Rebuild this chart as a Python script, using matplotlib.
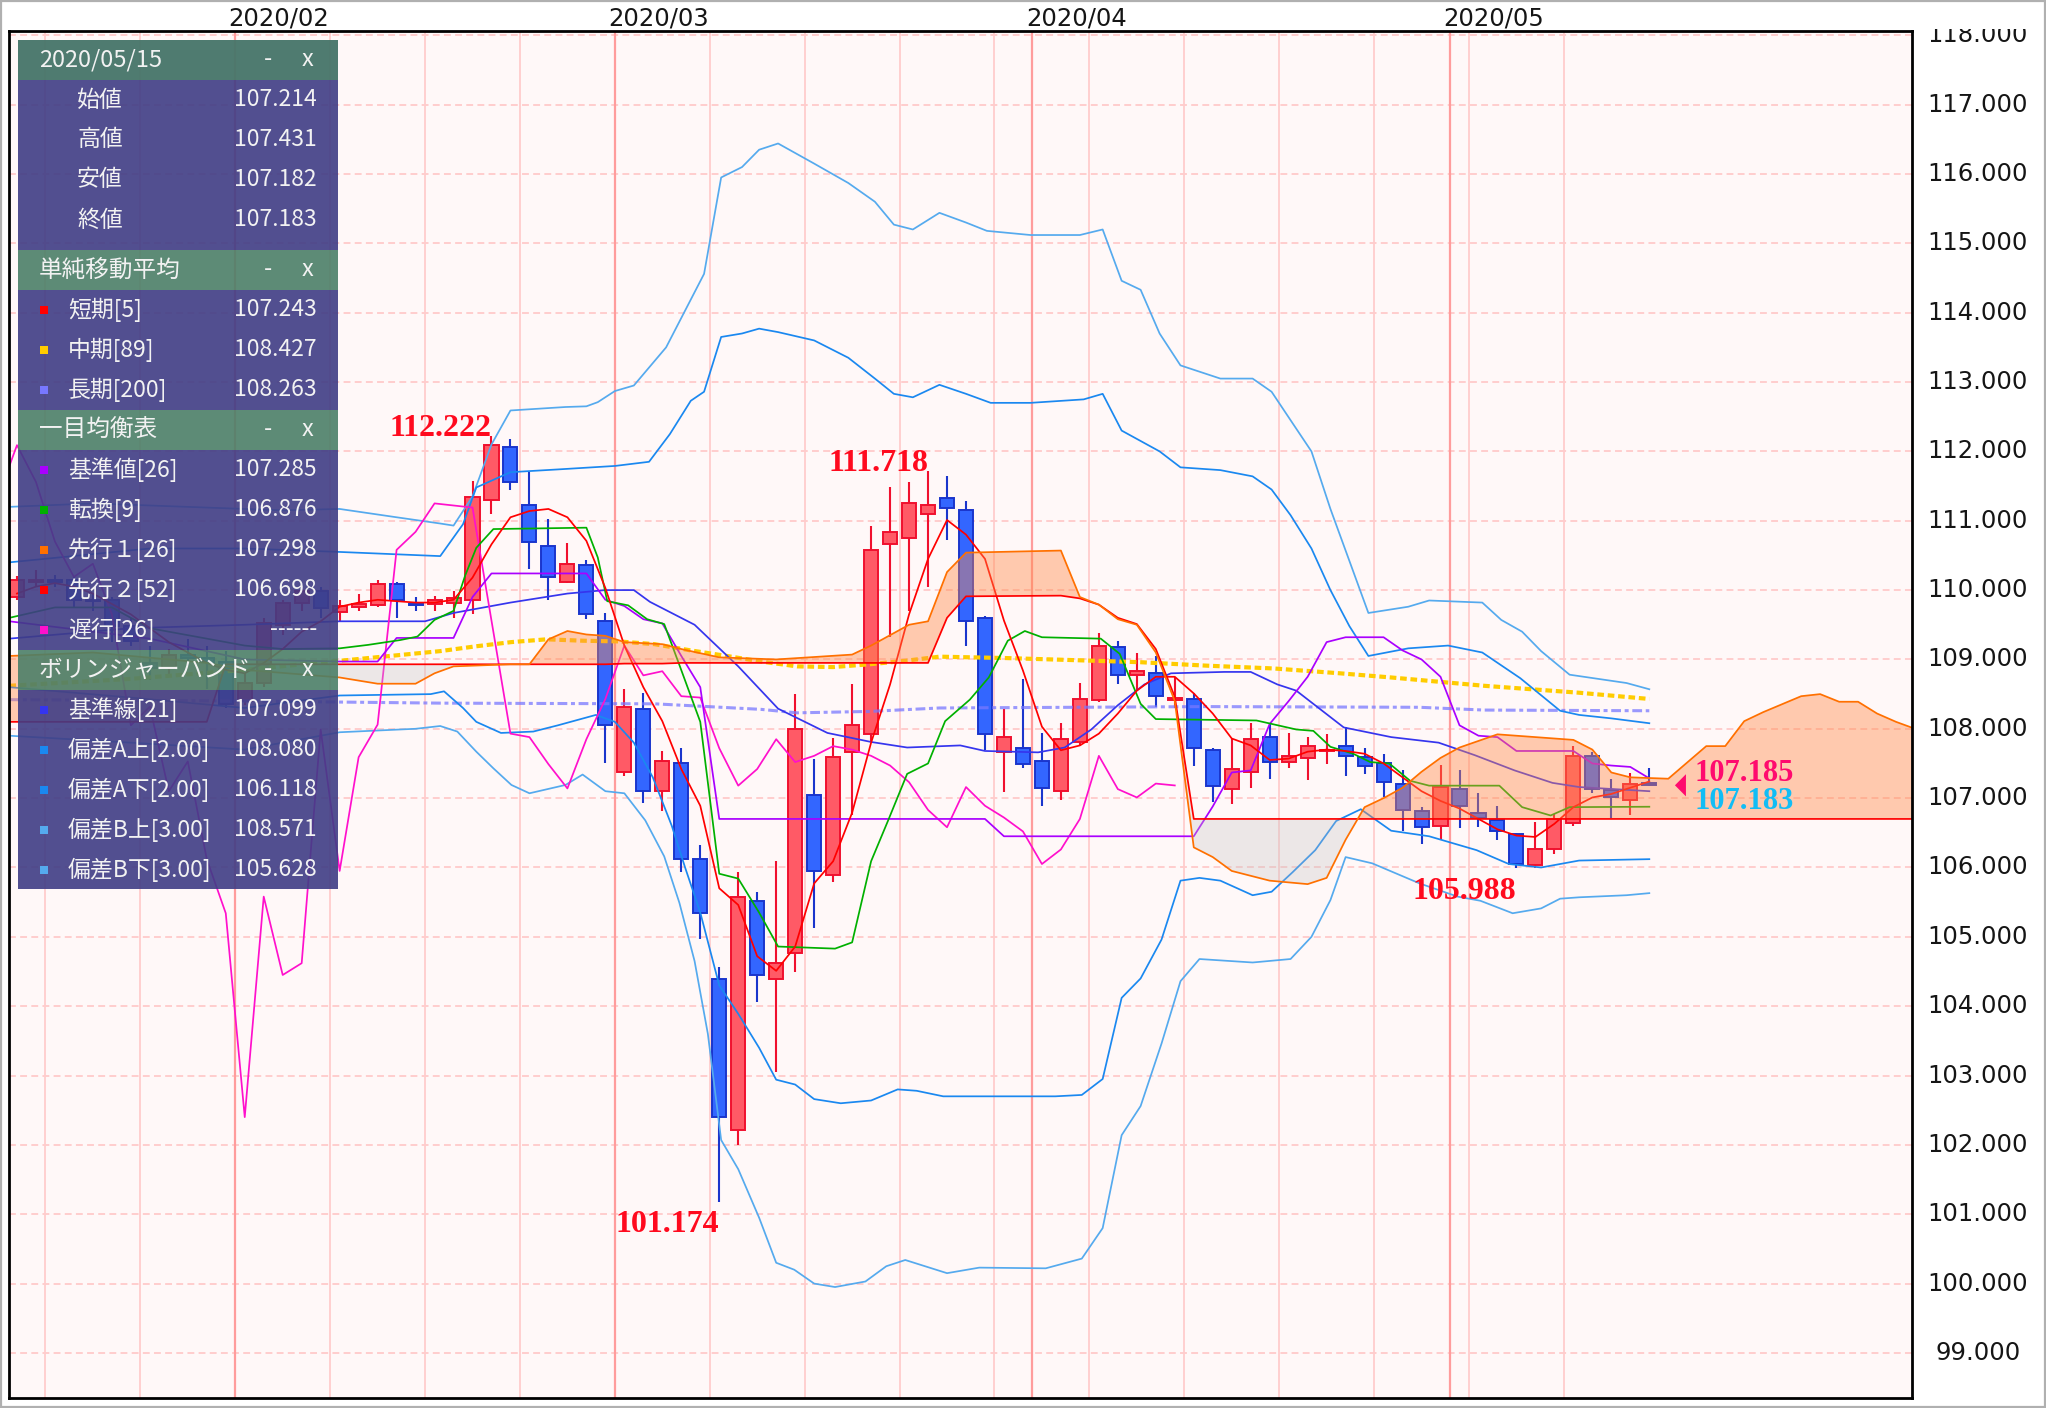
import numpy as np
import pandas as pd
import matplotlib
matplotlib.use("Agg")
import matplotlib.pyplot as plt
from matplotlib.patches import Rectangle, Polygon
from matplotlib.transforms import Bbox, TransformedBbox, blended_transform_factory

W, H, DPI = 2046, 1408, 100

# ---------------- daily candles (x = sessions counted from 2020-02-03) ----------------
dates = pd.bdate_range("2020-01-16", "2020-05-15")

opens = [109.90, 110.12, 110.15, 110.14, 109.86, 109.85, 109.48, 108.95, 108.88, 109.07, 109.02, 108.96,
         108.40, 108.66, 109.50, 109.82, 109.98, 109.69, 109.75, 109.78, 110.09, 109.80, 109.80, 109.82,
         109.85, 111.30, 112.06, 111.22, 110.64, 110.12, 110.36, 109.55,
         107.38, 108.29, 107.10, 107.51, 106.12, 104.39, 102.22, 105.52, 104.39, 104.76,
         107.04, 105.89, 107.66, 107.93, 110.67, 110.75, 111.10, 111.33, 111.16, 109.60,
         107.67, 107.72, 107.53, 107.10, 107.81, 108.41, 109.18, 108.77, 108.80, 108.42,
         108.43, 107.70, 107.13, 107.38, 107.88, 107.52, 107.58, 107.68, 107.75, 107.60,
         107.50, 107.21, 106.81, 106.60, 107.13, 106.78, 106.68, 106.49, 106.03, 106.26,
         106.64, 107.61, 107.12, 106.98, 107.214]
highs = [110.20, 110.29, 110.22, 110.20, 109.95, 109.90, 109.60, 109.20, 109.15, 109.30, 109.20, 109.12,
         108.80, 109.60, 109.85, 110.02, 110.05, 109.85, 109.95, 110.14, 110.11, 109.90, 109.92, 109.98,
         111.58, 112.222, 112.18, 111.70, 111.03, 110.68, 110.44, 109.67,
         108.58, 108.51, 107.68, 107.73, 106.32, 104.57, 105.93, 105.65, 106.10, 108.50,
         107.57, 107.86, 108.64, 110.93, 111.48, 111.56, 111.718, 111.65, 111.28, 109.63,
         108.29, 108.72, 107.94, 108.08, 108.66, 109.38, 109.26, 109.09, 109.05, 108.75,
         108.52, 107.73, 107.85, 108.08, 108.09, 107.94, 107.88, 107.93, 108.02, 107.73,
         107.63, 107.40, 106.87, 107.48, 107.40, 107.07, 106.88, 106.50, 106.65, 106.77,
         107.75, 107.66, 107.28, 107.36, 107.431]
lows = [109.85, 110.05, 110.05, 109.75, 109.70, 109.25, 109.20, 108.70, 108.75, 108.90, 108.57, 108.30,
        108.35, 108.60, 109.35, 109.70, 109.60, 109.55, 109.70, 109.75, 109.60, 109.70, 109.70, 109.60,
        109.65, 111.09, 111.44, 110.31, 109.86, 110.10, 109.58, 107.50,
        107.32, 106.93, 106.82, 105.94, 104.97, 101.174, 102.00, 104.06, 103.05, 104.50,
        105.13, 105.79, 106.75, 107.83, 109.33, 109.70, 110.05, 110.72, 109.19, 107.70,
        107.09, 107.43, 106.88, 106.98, 107.75, 108.38, 108.64, 108.55, 108.32, 108.30,
        107.46, 106.95, 106.92, 107.15, 107.27, 107.43, 107.26, 107.49, 107.32, 107.35,
        107.01, 106.53, 106.34, 106.40, 106.57, 106.59, 106.40, 105.988, 105.99, 106.20,
        106.60, 107.08, 106.72, 106.75, 107.182]
closes = [110.15, 110.15, 110.12, 109.86, 109.84, 109.48, 109.27, 108.88, 109.07, 109.02, 108.96, 108.36,
          108.66, 109.52, 109.82, 109.98, 109.74, 109.77, 109.80, 110.09, 109.86, 109.78, 109.85, 109.88,
          111.34, 112.09, 111.56, 110.70, 110.19, 110.38, 109.65, 108.05,
          108.32, 107.10, 107.53, 106.12, 105.34, 102.40, 105.58, 104.45, 104.62, 107.99,
          105.95, 107.59, 108.06, 110.58, 110.84, 111.25, 111.22, 111.19, 109.56, 107.93,
          107.88, 107.49, 107.14, 107.85, 108.43, 109.20, 108.77, 108.83, 108.47, 108.45,
          107.72, 107.18, 107.42, 107.85, 107.52, 107.61, 107.75, 107.70, 107.61, 107.47,
          107.23, 106.83, 106.58, 107.16, 106.89, 106.72, 106.52, 106.05, 106.26, 106.70,
          107.61, 107.13, 107.01, 107.21, 107.183]

# ---------------- indicators ----------------
sma5 = [109.95, 110.05, 110.10, 110.05, 109.95, 109.80, 109.65, 109.45, 109.25, 109.10, 108.95, 108.85,
        108.80, 108.95, 109.15, 109.40, 109.55, 109.76, 109.82, 109.86, 109.84, 109.82, 109.82, 109.86,
        110.18, 110.66, 111.05, 111.14, 111.17, 111.05, 110.71, 110.03,
        109.20, 108.60, 108.11, 107.42, 106.89, 105.70, 105.46, 104.72, 104.51, 104.86,
        105.77, 106.09, 106.79, 107.80, 108.64, 109.65, 110.45, 111.01, 110.80, 110.45,
        109.56, 108.84, 108.03, 107.69, 107.76, 107.93, 108.22, 108.55, 108.75, 108.75,
        108.51, 108.22, 107.86, 107.76, 107.55, 107.57, 107.67, 107.70, 107.68, 107.64,
        107.50, 107.30, 107.10, 106.96, 106.85, 106.70, 106.55, 106.46, 106.44, 106.63,
        106.87, 107.01, 107.06, 107.15, 107.24]

sma89_x = [-12.4, -6, 0, 5, 10.3, 12.2, 14.05, 15.9, 17.8, 19.7, 21.6, 23.5, 25.4, 27.2, 29.1,
           31, 32.9, 34.8, 36.6, 40.1, 43.7, 47.2, 50.7, 54.2, 57.7, 60.4, 65.3, 70.3, 74]
sma89_y = [108.62, 108.72, 108.85, 108.98, 109.12, 109.19, 109.25, 109.29, 109.27, 109.26, 109.22, 109.13,
           109.05, 108.97, 108.9, 108.89, 108.93, 108.98, 109.04, 109.02, 108.99, 108.96, 108.91, 108.87,
           108.8, 108.74, 108.62, 108.52, 108.43]

sma200_x = [-12.4, 0, 10.3, 21.6, 27.2, 29.1, 32.9, 36.6, 50.7, 61.9, 65.3, 74]
sma200_y = [108.42, 108.4, 108.37, 108.36, 108.28, 108.23, 108.25, 108.3, 108.32, 108.31, 108.27, 108.26]

tenkan_x = [-12.4, -10, -7, -5, -3, -1, 0, 2, 5, 6.5, 8.2, 9.1, 10, 11, 11.6, 12.2, 13.1, 18, 18.6, 19.1,
            20.2, 21.2, 22.1, 22.9, 24, 25, 26, 27.1, 28.1, 31.1, 32, 33, 33.9, 34.9, 36, 36.9, 38.2, 39.2,
            40.2, 41.1, 42, 45.1, 46.1, 47.2, 48, 53.3, 55.4, 56.3, 57.2, 58.4, 59.3, 60.3, 61.4, 62.4,
            66.1, 67.3, 68.8, 69.8, 74]
tenkan_y = [109.6, 109.75, 109.75, 109.45, 109.35, 109.25, 109.2, 109.15, 109.16, 109.21, 109.28, 109.33,
            109.57, 109.7, 110.2, 110.61, 110.88, 110.9, 110.47, 109.84, 109.78, 109.58, 109.51, 108.92,
            108.1, 105.91, 105.84, 105.35, 104.86, 104.83, 104.92, 106.09, 106.68, 107.35, 107.5, 108.11,
            108.42, 108.74, 109.27, 109.41, 109.32, 109.3, 109.08, 108.36, 108.14, 108.12, 107.99, 107.97,
            107.74, 107.64, 107.52, 107.5, 107.25, 107.18, 107.18, 106.87, 106.75, 106.87, 106.876]

kijun_x = [-12.4, -5, 0, 5, 7, 8, 11, 12, 13, 18, 19, 20, 21, 22, 23, 24, 25, 39, 40, 50, 51, 52, 53, 54,
           55, 56, 57, 58, 60, 61, 62, 63, 64, 65, 66, 67, 70, 71, 72, 73, 74]
kijun_y = [109.55, 109.3, 109.0, 108.97, 108.97, 109.31, 109.31, 109.9, 110.24, 110.24, 109.86, 109.77,
           109.58, 109.52, 109.05, 108.6, 106.7, 106.7, 106.45, 106.45, 106.88, 107.37, 107.4, 108.07,
           108.4, 108.75, 109.25, 109.32, 109.32, 109.13, 109.0, 108.75, 108.05, 107.9, 107.88, 107.68,
           107.68, 107.5, 107.47, 107.45, 107.285]

cloud_x = [-12.4, -8, -4, -2, -1, 0, 5, 7, 9, 10, 11, 14, 15, 16, 17, 18, 19, 20, 22, 23, 25, 28, 32, 33,
           34, 35, 36, 37, 38, 43, 44, 45, 46, 47, 48, 49, 50, 51, 52, 54, 56, 57, 58, 59, 60, 61, 62, 63,
           64, 66, 67, 70, 71, 72, 73, 75, 77, 78, 79, 80, 82, 83, 84, 85, 86, 87, 88]
span_a = [109.05, 109.1, 109.0, 108.95, 108.9, 108.85, 108.74, 108.65, 108.65, 108.8, 108.9, 108.93,
          108.93, 109.29, 109.41, 109.36, 109.34, 109.25, 109.22, 109.15, 109.03, 109.0, 109.07, 109.2,
          109.35, 109.5, 109.55, 110.26, 110.54, 110.57, 109.9, 109.79, 109.58, 109.5, 109.1, 108.4,
          106.29, 106.15, 105.95, 105.81, 105.76, 105.85, 106.4, 106.87, 107.0, 107.15, 107.38, 107.58,
          107.73, 107.92, 107.9, 107.84, 107.7, 107.37, 107.3, 107.28, 107.75, 107.75, 108.11, 108.24,
          108.47, 108.5, 108.39, 108.39, 108.22, 108.1, 108.0]
span_b = [108.1, 108.1, 108.1, 108.1, 108.93, 108.93, 108.93, 108.93, 108.93, 108.93, 108.93, 108.93,
          108.93, 108.93, 108.93, 108.93, 108.93, 108.94, 108.94, 108.95, 108.95, 108.95, 108.95, 108.95,
          108.95, 108.95, 108.95, 109.6, 109.91, 109.92, 109.88, 109.79, 109.6, 109.51, 109.15, 108.46,
          106.7, 106.7, 106.7, 106.7, 106.7, 106.7, 106.7, 106.7, 106.7, 106.7, 106.7, 106.7,
          106.7, 106.7, 106.7, 106.7, 106.7, 106.7, 106.7, 106.7, 106.7, 106.7, 106.7, 106.7,
          106.7, 106.7, 106.7, 106.7, 106.7, 106.7, 106.7]

bb_mid_x = [-12.4, -6, 0, 5, 9.5, 11, 14, 17, 19, 20.5, 21.35, 23.7, 26.0, 28.1, 30.7, 33.0, 34.9, 37.7,
            39.0, 41.8, 43.2, 44.6, 46.0, 47.4, 48.8, 51.6, 53.0, 54.4, 55.4, 57.9, 60.4, 62.9, 64.8,
            66.9, 68.9, 70.3, 74]
bb_mid_y = [109.3, 109.45, 109.5, 109.55, 109.55, 109.67, 109.82, 109.95, 110.0, 110.0, 109.83, 109.5,
            108.9, 108.29, 107.94, 107.81, 107.73, 107.76, 107.68, 107.66, 107.73, 107.99, 108.34, 108.64,
            108.8, 108.82, 108.82, 108.64, 108.55, 108.02, 107.88, 107.8, 107.62, 107.4, 107.22, 107.16,
            107.1]

bb_up2_x = [-12.4, -5, 0, 5, 10.3, 11.5, 12.2, 14, 16.5, 19.5, 21.3, 22.4, 23.5, 24.2, 25.1, 26.2, 27.1,
            28.1, 30, 31.8, 33.2, 34.2, 35.2, 36.6, 38, 39.3, 41.4, 44.2, 45.2, 46.2, 48.2, 49.3, 51.4,
            53.1, 54.1, 55.1, 56.2, 57.2, 58.2, 59.2, 61.3, 63.4, 65.2, 67.2, 69.3, 70.3, 72, 74]
bb_up2_y = [110.4, 110.6, 110.6, 110.55, 110.49, 110.95, 111.48, 111.70, 111.74, 111.79, 111.85, 112.25,
            112.73, 112.86, 113.65, 113.7, 113.77, 113.72, 113.6, 113.35, 113.05, 112.83, 112.78, 112.96,
            112.83, 112.7, 112.7, 112.75, 112.83, 112.3, 112.0, 111.77, 111.73, 111.64, 111.45, 111.08,
            110.6, 110.0, 109.48, 109.05, 109.16, 109.2, 109.1, 108.73, 108.26, 108.2, 108.15, 108.08]

bb_dn2_x = [-12.4, -6, 0, 5, 9.8, 10.5, 11.5, 12.2, 13.5, 15.2, 16.5, 18.5, 19.5, 20.5, 21.5, 22.5, 23.2,
            24.0, 25.0, 26.0, 27.1, 28.0, 29.0, 30.0, 31.4, 33.0, 34.4, 35.4, 36.8, 42.7, 44.1, 45.2, 46.2,
            47.2, 48.3, 49.3, 50.3, 51.4, 53.1, 54.1, 55.2, 56.4, 57.5, 58.8, 60.4, 62.4, 64.9, 66.6,
            68.3, 69.3, 70.3, 74]
bb_dn2_y = [108.6, 108.45, 108.3, 108.48, 108.5, 108.54, 108.3, 108.1, 107.94, 107.96, 108.05, 108.2,
            108.1, 107.8, 107.3, 106.6, 106.0, 105.35, 104.3, 103.89, 103.4, 102.94, 102.87, 102.66,
            102.6, 102.64, 102.8, 102.78, 102.7, 102.7, 102.72, 102.95, 104.12, 104.4, 104.96, 105.81,
            105.85, 105.81, 105.6, 105.65, 105.93, 106.25, 106.67, 106.84, 106.53, 106.45, 106.25,
            106.05, 106.0, 106.05, 106.1, 106.12]

bb_up3_x = [-12.4, -8, -3, 2, 5, 8, 10.3, 11.0, 12.0, 13.0, 14.0, 16.9, 18.0, 18.6, 19.5, 20.5, 22.2,
            24.2, 25.1, 26.2, 27.1, 28.1, 30, 31.8, 33.2, 34.2, 35.2, 36.6, 38, 39.1, 41.4, 44, 45.2,
            46.2, 47.2, 48.2, 49.3, 51.4, 53.1, 54.1, 55.1, 56.2, 57.2, 58.2, 59.2, 61.3, 62.4, 65.2,
            66.2, 67.3, 68.3, 69.8, 72.8, 74]
bb_up3_y = [111.2, 111.25, 111.2, 111.15, 111.17, 111.05, 110.96, 110.93, 111.35, 112.1, 112.59, 112.64,
            112.65, 112.71, 112.87, 112.95, 113.5, 114.56, 115.95, 116.1, 116.35, 116.44, 116.15, 115.87,
            115.6, 115.27, 115.2, 115.44, 115.3, 115.18, 115.12, 115.12, 115.2, 114.46, 114.33, 113.7,
            113.24, 113.05, 113.05, 112.86, 112.45, 112.0, 111.17, 110.42, 109.67, 109.76, 109.85,
            109.82, 109.57, 109.4, 109.12, 108.78, 108.66, 108.57]

bb_dn3_x = [-12.4, -6, 0, 5, 9, 10.3, 11.2, 12.2, 13.1, 14.05, 15.0, 16.9, 17.8, 19.0, 20.0, 21.1, 22.1,
            22.9, 23.7, 24.4, 25.1, 26.0, 27.1, 28.0, 28.95, 30.0, 31.1, 32.7, 33.8, 34.8, 37.0, 38.7,
            42.2, 44.1, 45.2, 46.2, 47.2, 48.3, 49.3, 50.3, 53.1, 55.1, 56.2, 57.2, 58.0, 59.4, 61.9,
            63.9, 65.1, 66.8, 68.3, 69.3, 70.3, 72.8, 74]
bb_dn3_y = [107.9, 107.8, 107.7, 107.95, 108.0, 108.04, 107.96, 107.67, 107.43, 107.19, 107.07, 107.19,
            107.34, 107.1, 107.07, 106.68, 106.16, 105.49, 104.65, 103.6, 102.07, 101.65, 100.95, 100.3,
            100.2, 100.0, 99.95, 100.03, 100.25, 100.34, 100.15, 100.23, 100.22, 100.36, 100.8, 102.14,
            102.56, 103.46, 104.36, 104.68, 104.63, 104.68, 105.0, 105.53, 106.15, 106.06, 105.77,
            105.58, 105.52, 105.34, 105.41, 105.55, 105.57, 105.6, 105.63]

# legend panel contents
ohlc_names = ["始値", "高値", "安値", "終値"]
sma_names = ["短期[5]", "中期[89]", "長期[200]"]
sma_vals = ["107.243", "108.427", "108.263"]
ichi_names = ["基準値[26]", "転換[9]", "先行１[26]", "先行２[52]", "遅行[26]"]
ichi_vals = ["107.285", "106.876", "107.298", "106.698", "------"]
bb_names = ["基準線[21]", "偏差A上[2.00]", "偏差A下[2.00]", "偏差B上[3.00]", "偏差B下[3.00]"]
bb_vals = ["107.099", "108.080", "106.118", "108.571", "105.628"]
bid_price, last_price = "107.185", "107.183"
chikou_shift = 25

# ---------------- colours ----------------
C_SMA5, C_SMA89, C_SMA200 = "#ff0000", "#ffcc00", "#7878ff"
C_KIJUN, C_TENKAN, C_SPAN_A, C_SPAN_B, C_CHIKOU = "#aa00ff", "#00b000", "#ff7000", "#ff0000", "#ff10cc"
C_BB_MID, C_BB2, C_BB3 = "#3535ee", "#1a88f0", "#55aaee"

opens, highs, lows, closes = map(np.array, (opens, highs, lows, closes))
x = np.arange(len(dates)) - dates.get_loc(pd.Timestamp("2020-02-03"))

fig = plt.figure(figsize=(W / DPI, H / DPI), dpi=DPI)
fig.patch.set_facecolor("white")
L, R, T, B = 9, 1912, 31, 1398
ax = fig.add_axes([L / W, 1 - B / H, (R - L) / W, (B - T) / H])
ax.set_facecolor("#fff8f8")
ax.set_xlim(-12.42, 87.84)
ax.set_ylim(98.35, 118.062)
ax.set_xticks([])
ax.set_yticks([])
for s in ax.spines.values():
    s.set_linewidth(2.0)
    s.set_color("black")
    s.set_zorder(8)

# grid
for v in range(99, 119):
    ax.axhline(v, color="#ffc2c2", lw=1.1, ls=(0, (4.5, 2.8)), zorder=0.5)
month_start = np.r_[True, dates.month[1:] != dates.month[:-1]] & (dates >= "2020-02-01")
for xi, d, ms in zip(x, dates, month_start):
    if ms:
        ax.axvline(xi - 0.5, color="#ff9c9c", lw=1.6, zorder=0.6)
    elif d.weekday() == 0:
        ax.axvline(xi - 0.5, color="#ffcccc", lw=1.3, zorder=0.6)

# candles
up = closes >= opens
edge = np.where(up, "#f0102e", "#1a35cc")
fill = np.where(up, "#ff5a66", "#3366ff")
ax.vlines(x, lows, highs, colors=edge, lw=1.5, zorder=2)
body_lo = np.minimum(opens, closes)
body_h = np.maximum(np.abs(closes - opens), 0.012)
ax.bar(x, body_h, bottom=body_lo, width=0.74, color=fill, edgecolor=edge, linewidth=1.4, zorder=2.1)

# indicator lines
lw = 1.25
ax.plot(sma200_x, sma200_y, color=C_SMA200, lw=2.2, alpha=0.75, ls=(0, (3.2, 1.2, 1.3, 1.2)), zorder=2.5)
ax.plot(sma89_x, sma89_y, color=C_SMA89, lw=3.0, ls=(0, (1.6, 0.9)), zorder=2.6)
ax.plot(bb_up3_x, bb_up3_y, color=C_BB3, lw=lw, zorder=3)
ax.plot(bb_dn3_x, bb_dn3_y, color=C_BB3, lw=lw, zorder=3)
ax.plot(bb_up2_x, bb_up2_y, color=C_BB2, lw=lw, zorder=3)
ax.plot(bb_dn2_x, bb_dn2_y, color=C_BB2, lw=lw, zorder=3)
ax.plot(bb_mid_x, bb_mid_y, color=C_BB_MID, lw=lw, zorder=3)
ax.plot(x - chikou_shift, closes, color=C_CHIKOU, lw=lw, zorder=3)
ax.plot(kijun_x, kijun_y, color=C_KIJUN, lw=lw, zorder=3.1)
ax.plot(tenkan_x, tenkan_y, color=C_TENKAN, lw=lw, zorder=3.2)
ax.plot(x, sma5, color=C_SMA5, lw=lw, zorder=3.3)

# ichimoku cloud (drawn over candles, translucent)
a, b = np.array(span_a), np.array(span_b)
ax.fill_between(cloud_x, a, b, where=a >= b, interpolate=True, color="#ff8a48", alpha=0.42, lw=0, zorder=4)
ax.fill_between(cloud_x, a, b, where=a < b, interpolate=True, color="#c4c4c4", alpha=0.32, lw=0, zorder=4)
ax.plot(cloud_x, span_b, color=C_SPAN_B, lw=lw, zorder=4.5)
ax.plot(cloud_x, span_a, color=C_SPAN_A, lw=lw, zorder=4.6)

# high / low annotations
mark = dict(family="Liberation Serif", weight="bold", size=23, color="#ff0a1e", zorder=7)
for d in ["2020-02-20", "2020-03-24"]:
    k = dates.get_loc(pd.Timestamp(d))
    ax.text(x[k], highs[k], f"{highs[k]:.3f}", ha="right", va="baseline", **mark)
for d in ["2020-03-09", "2020-05-06"]:
    k = dates.get_loc(pd.Timestamp(d))
    ax.text(x[k], lows[k] - 0.12, f"{lows[k]:.3f}", ha="right", va="top", **mark)

# current price markers
xe = x[-1]
ax.add_patch(Polygon([[xe + 1.35, 107.185], [xe + 1.93, 107.345], [xe + 1.93, 107.025]],
                     closed=True, color="#ff0a6e", lw=0, zorder=7))
ax.text(xe + 2.4, 107.245, bid_price, ha="left", va="baseline", family="Liberation Serif",
        weight="bold", size=22, color="#ff0a6e", zorder=7)
ax.text(xe + 2.4, 106.85, last_price, ha="left", va="baseline", family="Liberation Serif",
        weight="bold", size=22, color="#12bdf5", zorder=7)

# month labels on top
top_tr = blended_transform_factory(ax.transData, fig.transFigure)
for xi, d, ms in zip(x, dates, month_start):
    if ms:
        fig.text(xi - 0.85, 1 - 19 / H, d.strftime("%Y/%m"), transform=top_tr, ha="left", va="center",
                 fontsize=17.5, family="DejaVu Sans", color="#151515")

# price scale on the right
ylab_tr = blended_transform_factory(fig.transFigure, ax.transData)
clip = TransformedBbox(Bbox.from_extents(0, 0, 1, 1 - 29 / H), fig.transFigure)
for v in range(99, 119):
    t = fig.text(1978 / W, v, f"{v:.3f}", transform=ylab_tr, ha="center", va="center",
                 fontsize=17.5, family="DejaVu Sans", color="#151515")
    t.set_clip_box(clip)
    t.set_clip_on(True)

# ---------------- legend panel (pixel overlay) ----------------
ov = fig.add_axes([0, 0, 1, 1], zorder=10)
ov.set_xlim(0, W)
ov.set_ylim(H, 0)
ov.axis("off")
ov.patch.set_alpha(0)

PX0, PX1 = 18, 338
HEAD, BODY = "#4b7f68", "#3f3d85"
PF = ["Noto Sans CJK JP", "DejaVu Sans"]
TXT = "#f2f2f2"


def header(y0, title, color=HEAD, alpha=0.9):
    ov.add_patch(Rectangle((PX0, y0), PX1 - PX0, 40, facecolor=color, alpha=alpha, lw=0))
    yc = y0 + 20
    ov.text(39, yc, title, ha="left", va="center", fontsize=17, color=TXT, family=PF)
    ov.text(268, yc, "-", ha="center", va="center", fontsize=17, color=TXT, family=PF)
    ov.text(308, yc, "x", ha="center", va="center", fontsize=17, color=TXT, family=PF)


def body(y0, y1):
    ov.add_patch(Rectangle((PX0, y0), PX1 - PX0, y1 - y0, facecolor=BODY, alpha=0.9, lw=0))


def rows(y0, names, vals, colors):
    for k, (n, v, c) in enumerate(zip(names, vals, colors)):
        yc = y0 + 20 + 40 * k
        ov.add_patch(Rectangle((40, yc - 4), 8, 8, facecolor=c, lw=0))
        ov.text(68, yc, n, ha="left", va="center", fontsize=16.5, color=TXT, family=PF)
        ov.text(317, yc, v, ha="right", va="center", fontsize=16.5, color=TXT, family=PF)


header(40, dates[-1].strftime("%Y/%m/%d"), color="#48766a", alpha=0.96)
body(80, 250)
for k, (n, v) in enumerate(zip(ohlc_names, [opens[-1], highs[-1], lows[-1], closes[-1]])):
    yc = 100 + 40 * k
    ov.text(100, yc, n, ha="center", va="center", fontsize=16.5, color=TXT, family=PF)
    ov.text(317, yc, f"{v:.3f}", ha="right", va="center", fontsize=16.5, color=TXT, family=PF)

header(250, "単純移動平均")
body(290, 410)
rows(290, sma_names, sma_vals, [C_SMA5, C_SMA89, C_SMA200])

header(410, "一目均衡表")
body(450, 650)
rows(450, ichi_names, ichi_vals, [C_KIJUN, C_TENKAN, C_SPAN_A, C_SPAN_B, C_CHIKOU])

header(650, "ボリンジャーバンド")
body(690, 889)
rows(690, bb_names, bb_vals, [C_BB_MID, C_BB2, C_BB2, C_BB3, C_BB3])

# outer frame of the image
ov.add_patch(Rectangle((1.1, 1.1), W - 2.2, H - 2.2, fill=False, edgecolor="#b0b0b0", lw=1.6))

fig.savefig("out.png", dpi=DPI, facecolor="white")
print("saved out.png")
